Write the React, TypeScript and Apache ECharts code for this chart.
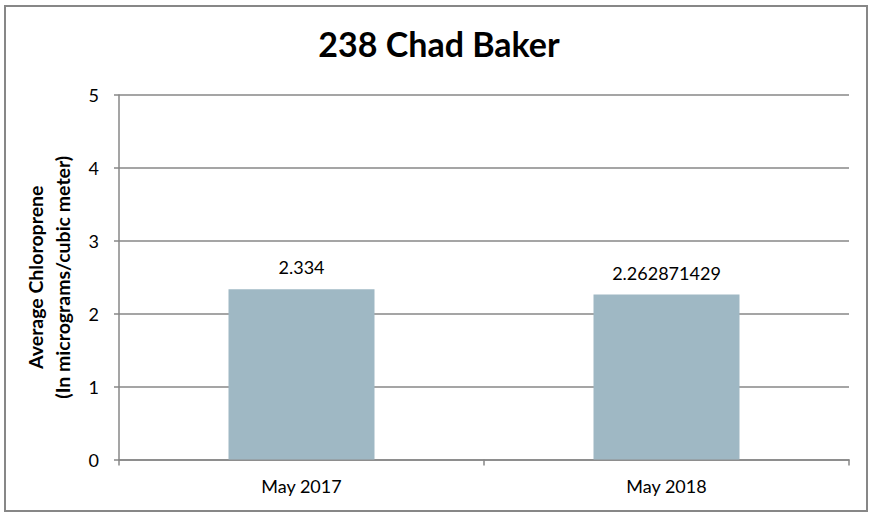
import React, { useEffect, useRef } from "react";
import * as echarts from "echarts";

const categories = ["May 2017", "May 2018"];
const values = [2.334, 2.262871429];
const valueLabels = ["2.334", "2.262871429"];
const title = "238 Chad Baker";
const yAxisName = "Average Chloroprene\n(In micrograms/cubic meter)";

const FONT = "Lato, 'Open Sans', sans-serif";

export default function App() {
  const ref = useRef<HTMLDivElement>(null);
  useEffect(() => {
    if (!ref.current) return;
    const chart = echarts.init(ref.current, null, { renderer: "svg" });
    chart.setOption({
      animation: false,
      backgroundColor: "#ffffff",
      title: {
        text: title,
        left: "center",
        top: 21,
        textStyle: { fontFamily: FONT, fontWeight: "bold", fontSize: 34, color: "#000" },
      },
      graphic: [
        {
          type: "rect",
          shape: { x: 5, y: 6, width: 862, height: 505 },
          style: { fill: "none", stroke: "#878787", lineWidth: 2 },
          silent: true,
        },
      ],
      grid: { left: 119, right: 29, top: 95, bottom: 60.5 },
      xAxis: {
        type: "category",
        data: categories,
        axisLine: { lineStyle: { color: "#878787", width: 1.5 } },
        axisTick: { show: true, length: 6, lineStyle: { color: "#878787", width: 1.5 } },
        axisLabel: { color: "#000", fontFamily: FONT, fontSize: 18, margin: 17 },
      },
      yAxis: {
        type: "value",
        min: 0,
        max: 5,
        interval: 1,
        name: yAxisName,
        nameLocation: "middle",
        nameGap: 43,
        nameTextStyle: { fontFamily: FONT, fontWeight: "bold", fontSize: 19.5, color: "#000", lineHeight: 27 },
        axisLine: { show: true, lineStyle: { color: "#878787", width: 1.5 } },
        axisTick: { show: true, length: 5, lineStyle: { color: "#878787", width: 1.5 } },
        axisLabel: { color: "#000", fontFamily: FONT, fontSize: 18, margin: 20 },
        splitLine: { lineStyle: { color: "#878787", width: 1.5 } },
      },
      series: [
        {
          type: "bar",
          data: values,
          barWidth: "40%",
          itemStyle: { color: "#9FB8C4" },
          label: {
            show: true,
            position: "top",
            distance: 13,
            color: "#000",
            fontFamily: FONT,
            fontSize: 18,
            formatter: (p: any) => valueLabels[p.dataIndex],
          },
        },
      ],
    });
    return () => chart.dispose();
  }, []);
  return (
    <div
      ref={ref}
      style={{ position: "absolute", left: 0, top: 0, width: 878, height: 520 }}
    />
  );
}
